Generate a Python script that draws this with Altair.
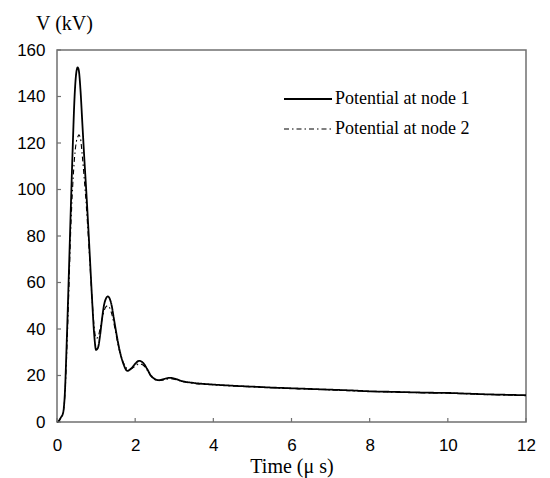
import altair as alt
import pandas as pd

time_us = [0, 0.05, 0.1, 0.15, 0.2, 0.25, 0.3, 0.35, 0.4, 0.45, 0.5, 0.53, 0.56, 0.6,
           0.65, 0.7, 0.75, 0.8, 0.85, 0.9, 0.95, 1.0, 1.05, 1.1, 1.15, 1.2, 1.25, 1.3,
           1.35, 1.4, 1.45, 1.5, 1.6, 1.7, 1.8, 1.9, 2.0, 2.1, 2.2, 2.3, 2.4, 2.5, 2.6,
           2.7, 2.8, 2.9, 3.0, 3.2, 3.5, 4.0, 4.5, 5.0, 5.5, 6.0, 6.5, 7.0, 7.5, 8.0,
           8.5, 9.0, 9.5, 10.0, 10.5, 11.0, 11.5, 12.0]

node1_kv = [0, 0.5, 2, 3.5, 12, 35, 62, 90, 117, 140, 151, 152.5, 151, 143,
            128, 113, 99, 84, 68, 52, 38, 31, 32, 37, 44, 50, 53, 54,
            53, 50, 45, 40, 31, 25, 22, 23, 25, 26.3, 25.5, 23, 20, 18.5, 18,
            18.3, 18.8, 19, 18.7, 17.6, 16.8, 16.1, 15.6, 15.2, 14.8, 14.5, 14.2, 13.9, 13.6, 13.2,
            13.0, 12.8, 12.6, 12.5, 12.2, 11.9, 11.7, 11.5]

node2_kv = [0, 0.5, 2, 3.5, 11, 30, 55, 82, 101, 114, 121, 122.5, 123.5, 122,
            114, 104, 93, 80, 66, 52, 41, 36, 36.5, 40, 44, 47.5, 49.5, 50,
            49, 46.5, 43, 38.5, 30.5, 25.5, 23, 23, 24, 25, 24.5, 22.5, 19.8, 18.3, 17.8,
            18, 18.4, 18.6, 18.4, 17.4, 16.6, 16.0, 15.5, 15.1, 14.7, 14.4, 14.1, 13.8, 13.5, 13.1,
            12.9, 12.7, 12.5, 12.4, 12.1, 11.8, 11.6, 11.4]

series_names = ["Potential at node 1", "Potential at node 2"]
x_ticks = [0, 2, 4, 6, 8, 10, 12]
y_ticks = [0, 20, 40, 60, 80, 100, 120, 140, 160]

n = len(time_us)
df = pd.DataFrame({
    "t": time_us + time_us,
    "v": node1_kv + node2_kv,
    "series": [series_names[0]] * n + [series_names[1]] * n,
})

FRAME = "#707070"
W, H = 469, 372

legend_cfg = alt.Legend(
    title=None, orient="none", legendX=223, legendY=40, padding=0,
    symbolType="M-4.8,0L4.8,0", symbolSize=100, symbolOffset=19,
    labelOffset=18, symbolStrokeColor="black", symbolFillColor="transparent",
    labelFont="Liberation Serif", labelFontSize=18, labelColor="black",
    rowPadding=12, labelLimit=300,
)

x_enc = alt.X("t:Q", scale=alt.Scale(domain=[0, 12], nice=False),
              axis=alt.Axis(values=x_ticks, title="Time (\u03bc s)", labelPadding=15,
                            titlePadding=3, labelFlush=False))
y_enc = alt.Y("v:Q", scale=alt.Scale(domain=[0, 160], nice=False),
              axis=alt.Axis(values=y_ticks, title="V (kV)", titleAngle=0, titleX=7,
                            titleY=-27, titleAlign="center", titleBaseline="middle",
                            labelPadding=12))

lines = alt.Chart(df).mark_line(color="black", interpolate="monotone").encode(
    x=x_enc,
    y=y_enc,
    strokeDash=alt.StrokeDash("series:N",
                              scale=alt.Scale(domain=series_names,
                                              range=[[1, 0], [5, 3, 1.5, 3]]),
                              legend=legend_cfg),
    strokeWidth=alt.StrokeWidth("series:N",
                                scale=alt.Scale(domain=series_names, range=[1.8, 1.1]),
                                legend=legend_cfg),
)

xt = alt.Chart(pd.DataFrame({"t": x_ticks})).mark_rule(color=FRAME, strokeWidth=1.2).encode(
    x=alt.X("t:Q"), y=alt.value(H), y2=alt.value(H - 4))
yt = alt.Chart(pd.DataFrame({"v": y_ticks})).mark_rule(color=FRAME, strokeWidth=1.2).encode(
    y=alt.Y("v:Q"), x=alt.value(0), x2=alt.value(4))

chart = alt.layer(lines, xt, yt).properties(
    width=W, height=H,
    padding={"left": 49, "top": 42, "right": 16, "bottom": 56},
    autosize="none",
    background="white",
).configure_view(
    stroke=FRAME, strokeWidth=1.5
).configure_axis(
    domain=False, ticks=False, tickSize=0, grid=False,
    labelFont="Liberation Sans", labelFontSize=17, labelColor="black",
    titleFont="Liberation Serif", titleFontSize=20, titleFontWeight="normal",
    titleColor="black",
)

chart.save("out.html", embed_options={"renderer": "svg", "actions": False})
